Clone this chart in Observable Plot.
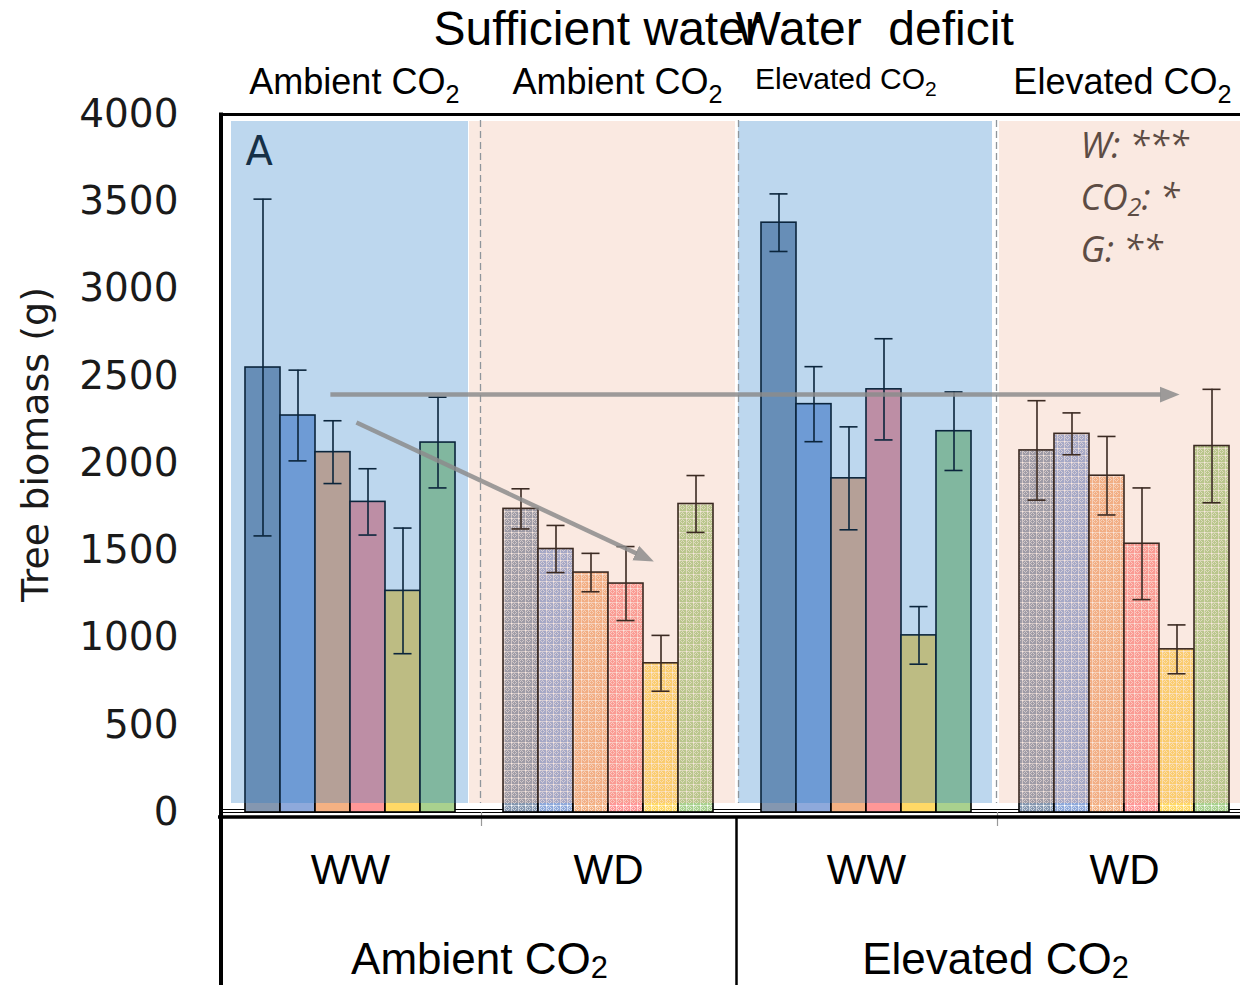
<!DOCTYPE html>
<html>
<head>
<meta charset="utf-8">
<script src="https://cdn.jsdelivr.net/npm/d3@7"></script>
<script src="https://cdn.jsdelivr.net/npm/@observablehq/plot@0.6"></script>
<style>
  html, body { margin: 0; padding: 0; background: #fff; overflow: hidden; }
  #chart svg { display: block; }
</style>
</head>
<body>
<div id="chart"></div>
<script>
// Treatments along the x axis: water regime nested in CO2 level
const waterRegimes = ["WW", "WD", "WW", "WD"];
const co2Levels = ["Ambient CO₂", "Elevated CO₂"];
const headerLabels = ["Ambient CO₂", "Ambient CO₂", "Elevated CO₂", "Elevated CO₂"];
const titleLabels = ["Sufficient water", "Water  deficit"];
const genotypes = ["G1", "G2", "G3", "G4", "G5", "G6"];

// Mean tree biomass (g) per genotype, with its error bar half-width
const ambientWW = [2550, 2275, 2065, 1780, 1270, 2120];
const ambientWWErr = [965, 260, 180, 190, 360, 260];
const ambientWD = [1740, 1510, 1375, 1312, 855, 1768];
const ambientWDErr = [115, 135, 110, 212, 160, 163];
const elevatedWW = [3380, 2340, 1915, 2425, 1015, 2185];
const elevatedWWErr = [165, 215, 295, 290, 165, 225];
const elevatedWD = [2075, 2170, 1930, 1540, 935, 2100];
const elevatedWDErr = [285, 120, 225, 320, 140, 325];

const yTicks = [0, 500, 1000, 1500, 2000, 2500, 3000, 3500, 4000];
const yLabel = "Tree biomass (g)";
const panelLetter = "A";
const statsLabel = "W: ***\nCO₂: *\nG: **";

// Trend arrows, x in treatment units, y in g
const trendArrows = [
  {x1: 0.422, y1: 2395, x2: 3.64, y2: 2395},
  {x1: 0.523, y1: 2235, x2: 1.609, y2: 1484}
];

// Styling
const genotypeColors = ["#8497B0", "#8EA9DB", "#F4B183", "#FF9797", "#FFD966", "#A9D18E"];
const GROUP_PAD = 0.093;                 // gap at each side of a treatment block
const BAR_W = (1 - 2 * GROUP_PAD) / 6;   // bar width, treatment units
const CAP = 0.035;                       // error-bar cap half-width
const panelInsets = [[10, 11], [-10, 2], [1, 3], [4, -20]];
const SANS = "Liberation Sans, Arial, sans-serif";
const DEJAVU = "DejaVu Sans, sans-serif";

const series = [ambientWW, ambientWD, elevatedWW, elevatedWD];
const errors = [ambientWWErr, ambientWDErr, elevatedWWErr, elevatedWDErr];
const rows = [];
series.forEach((vals, g) => vals.forEach((v, k) => {
  const x1 = g + GROUP_PAD + k * BAR_W;
  rows.push({
    group: waterRegimes[g], genotype: genotypes[k], value: v, err: errors[g][k],
    x1, x2: x1 + BAR_W, xc: x1 + BAR_W / 2,
    fill: waterRegimes[g] === "WD" ? `url(#hatch-${k})` : genotypeColors[k]
  });
}));

const panels = waterRegimes.map((w, g) => ({w, g}));
const panelMarks = panels.map((p, i) => Plot.rect([p], {
  x1: d => d.g, x2: d => d.g + 1, y1: 0, y2: 4000,
  fill: d => d.w === "WW" ? "#237AC6" : "#EBA787",
  fillOpacity: d => d.w === "WW" ? 0.3 : 0.25,
  insetLeft: panelInsets[i][0], insetRight: panelInsets[i][1],
  insetTop: 7, insetBottom: 9
}));

const svg = Plot.plot({
  width: 1240,
  height: 985,
  marginTop: 114,
  marginBottom: 173,
  marginLeft: 221,
  marginRight: 0,
  style: {background: "white"},
  x: {domain: [0, 4], range: [221, 1253], axis: null},
  y: {domain: [0, 4000], axis: null},
  color: {type: "identity"},
  marks: [
    // baseline double line under the bars
    Plot.ruleY([0], {dy: -3, strokeWidth: 1.2, stroke: "#000"}),
    Plot.ruleY([0], {strokeWidth: 1.2, stroke: "#000"}),
    // bars
    Plot.rect(rows, {x1: "x1", x2: "x2", y1: 0, y2: "value", fill: "fill", stroke: "#000", strokeWidth: 1.6}),
    // error bars
    Plot.ruleX(rows, {x: "xc", y1: d => d.value - d.err, y2: d => d.value + d.err, stroke: "#000", strokeWidth: 1.6}),
    Plot.ruleY(rows, {y: d => d.value + d.err, x1: d => d.xc - CAP, x2: d => d.xc + CAP, stroke: "#000", strokeWidth: 1.6}),
    Plot.ruleY(rows, {y: d => d.value - d.err, x1: d => d.xc - CAP, x2: d => d.xc + CAP, stroke: "#000", strokeWidth: 1.6}),
    // panel letter and statistics
    Plot.text([panelLetter], {text: d => d, frameAnchor: "top-left", dx: 24, dy: 22, lineAnchor: "top",
      textAnchor: "start", fontSize: 40, fontFamily: DEJAVU, fill: "#111"}),
    Plot.text([statsLabel], {text: d => d, frameAnchor: "top-left", dx: 859, dy: 6, lineAnchor: "top",
      lineHeight: 1.45, textAnchor: "start", fontSize: 36, fontStyle: "italic", fontFamily: "Open Sans, sans-serif", fill: "#2e2e2e"}),
    // treatment background panels
    ...panelMarks,
    // dashed separators and small ticks below the axis
    Plot.ruleX([1, 2, 3], {dx: 1, insetTop: 6, insetBottom: 9, stroke: "#8f969c", strokeWidth: 1.3, strokeDasharray: "7,4"}),
    Plot.ruleX([1, 3], {dx: 2, insetTop: 698, insetBottom: -14, stroke: "#999", strokeWidth: 1.2}),
    // trend arrows
    Plot.link(trendArrows, {x1: "x1", y1: "y1", x2: "x2", y2: "y2", stroke: "#8c8c8c", strokeOpacity: 0.85, strokeWidth: 4.5}),
    // frame and table lines
    Plot.ruleY([4000], {strokeWidth: 3, insetLeft: -2, stroke: "#000"}),
    Plot.ruleX([0], {dx: -0.5, strokeWidth: 4, insetTop: -1.5, insetBottom: -173, stroke: "#000"}),
    Plot.ruleY([0], {dy: 4.5, strokeWidth: 3.5, insetLeft: -3, stroke: "#000"}),
    Plot.ruleX([2], {dx: -1, insetTop: 702, insetBottom: -173, strokeWidth: 2.5, stroke: "#000"}),
    // y axis
    Plot.text(yTicks, {y: d => d, text: d => String(d), frameAnchor: "left", dx: -43, textAnchor: "end",
      lineAnchor: "middle", fontSize: 39, fontFamily: DEJAVU, fill: "#1a1a1a"}),
    Plot.text([yLabel], {text: d => d, frameAnchor: "left", rotate: -90, dx: -186, dy: -19,
      textAnchor: "middle", lineAnchor: "middle", fontSize: 38, fontFamily: DEJAVU, fill: "#1a1a1a"}),
    // titles above the frame
    Plot.text(titleLabels, {text: d => d, x: (d, i) => [0.822, 1.992][i], textAnchor: "start",
      frameAnchor: "top", lineAnchor: "middle", dy: -84.5, fontSize: 48, fontFamily: SANS, fill: "#000"}),
    Plot.text(headerLabels, {filter: (d, i) => i !== 2, text: d => d, x: (d, i) => i + 0.5 + [0.015, 0.035, -0.08, -0.008][i],
      frameAnchor: "top", lineAnchor: "middle", dy: -32.5, fontSize: 36, fontFamily: SANS, fill: "#000"}),
    Plot.text(headerLabels, {filter: (d, i) => i === 2, text: d => d, x: (d, i) => i + 0.5 - 0.08,
      frameAnchor: "top", lineAnchor: "middle", dy: -35.6, fontSize: 30, fontFamily: SANS, fill: "#000"}),
    // category labels below the axis
    Plot.text(waterRegimes, {text: d => d, x: (d, i) => i + 0.5, frameAnchor: "bottom", lineAnchor: "middle", dy: 57.6,
      fontSize: 42, fontFamily: SANS, fill: "#000"}),
    Plot.text(co2Levels, {text: d => d, x: (d, i) => 2 * i + 1, frameAnchor: "bottom", lineAnchor: "middle", dy: 147,
      fontSize: 44, fontFamily: SANS, fill: "#000"})
  ]
});

// hatch fills for water-deficit bars and the arrowhead marker
const defs = d3.select(svg).insert("defs", ":first-child");
genotypeColors.forEach((c, k) => {
  const p = defs.append("pattern").attr("id", `hatch-${k}`)
    .attr("patternUnits", "userSpaceOnUse").attr("width", 7).attr("height", 7);
  p.append("rect").attr("width", 7).attr("height", 7).attr("fill", c);
  p.append("path").attr("d", "M0,0.5H7M0.5,0V7").attr("fill", "none")
    .attr("stroke", "#fff").attr("stroke-width", 1).attr("stroke-opacity", 0.55);
  p.append("path").attr("d", "M3.5,1.5L5.5,3.5L3.5,5.5L1.5,3.5Z").attr("fill", "none")
    .attr("stroke", "#fff").attr("stroke-width", 1).attr("stroke-opacity", 0.6);
  p.append("rect").attr("x", 0).attr("y", 0).attr("width", 1.5).attr("height", 1.5)
    .attr("fill", "#fff").attr("fill-opacity", 0.9);
});
defs.append("marker").attr("id", "trend-head")
  .attr("markerUnits", "userSpaceOnUse").attr("viewBox", "0 -9 22 18")
  .attr("markerWidth", 22).attr("markerHeight", 18).attr("refX", 1).attr("refY", 0).attr("orient", "auto")
  .append("path").attr("d", "M0,-8L20,0L0,8Z").attr("fill", "#8c8c8c").attr("fill-opacity", 0.85);
svg.querySelectorAll('g[aria-label="link"] path').forEach(p => p.setAttribute("marker-end", "url(#trend-head)"));

// typeset the CO2 subscript; the bottom labels keep it closer to the baseline
const NS = "http://www.w3.org/2000/svg";
const walker = document.createTreeWalker(svg, NodeFilter.SHOW_TEXT);
const subNodes = [];
while (walker.nextNode()) if (walker.currentNode.data.includes("₂")) subNodes.push(walker.currentNode);
for (const node of subNodes) {
  const g = node.parentElement.closest("g[font-size]");
  const size = g ? +g.getAttribute("font-size") : 36;
  const shift = size >= 44 ? "-0.12em" : size === 36 && g.getAttribute("font-style") === "italic" ? "-0.25em" : "-0.35em";
  const parts = node.data.split("₂");
  const frag = document.createDocumentFragment();
  parts.forEach((part, i) => {
    if (i > 0) {
      const t = document.createElementNS(NS, "tspan");
      t.setAttribute("font-size", "70%");
      t.setAttribute("baseline-shift", shift);
      t.textContent = "2";
      frag.appendChild(t);
    }
    if (part) frag.appendChild(document.createTextNode(part));
  });
  node.parentNode.replaceChild(frag, node);
}

document.getElementById("chart").appendChild(svg);
</script>
</body>
</html>
